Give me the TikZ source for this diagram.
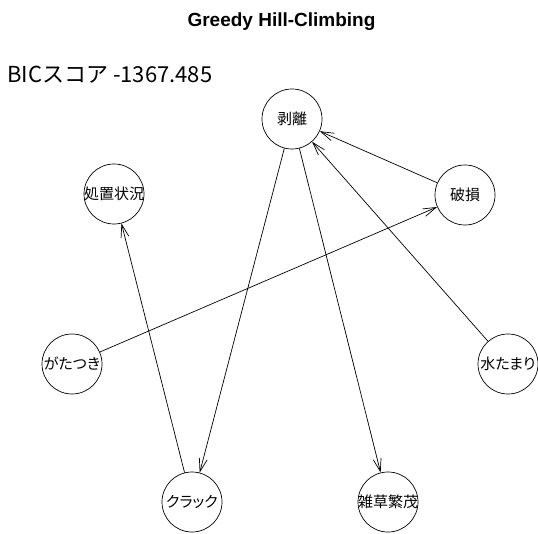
\documentclass[tikz,border=0pt]{standalone}
\usepackage{fontspec}
\setmainfont{Liberation Sans}
\newfontfamily\jp{Noto Sans CJK JP}
\newfontfamily\jplabel[RawFeature=+palt]{Noto Sans CJK JP}
\usetikzlibrary{arrows.meta}
\begin{document}
\begin{tikzpicture}[x=1pt,y=-1pt,
  nd/.style={draw, circle, minimum size=60pt, inner sep=0pt, line width=0.7pt, font=\jplabel\fontsize{15}{15}\selectfont},
  edge/.style={-{Straight Barb[length=13pt,width=8pt]}, line width=0.7pt}]
\useasboundingbox[fill=white] (0,0) rectangle (538,534);
\node[font=\bfseries\fontsize{19}{19}\selectfont, anchor=base, inner sep=0pt] (title) at (281.5,26.5) {Greedy Hill-Climbing};
\node[font=\jp\fontsize{22}{22}\selectfont, anchor=base west, inner sep=0pt] (bic) at (7,83) {BICスコア -1367.485};
\node[nd] (hakuri) at (292,119) {\makebox[0pt]{剥離}};
\node[nd] (shochi) at (114,194) {\makebox[0pt]{処置状況}};
\node[nd] (hason) at (465,195) {\makebox[0pt]{破損}};
\node[nd] (gata) at (72,364) {\makebox[0pt]{がたつき}};
\node[nd] (mizu) at (508,364) {\makebox[0pt]{水たまり}};
\node[nd] (crack) at (192,502) {\makebox[0pt]{クラック}};
\node[nd] (zasso) at (388,502) {\makebox[0pt]{雑草繁茂}};
\draw[edge] (hakuri) -- (crack);
\draw[edge] (hakuri) -- (zasso);
\draw[edge] (hason) -- (hakuri);
\draw[edge] (mizu) -- (hakuri);
\draw[edge] (gata) -- (hason);
\draw[edge] (crack) -- (shochi);
\end{tikzpicture}
\end{document}
